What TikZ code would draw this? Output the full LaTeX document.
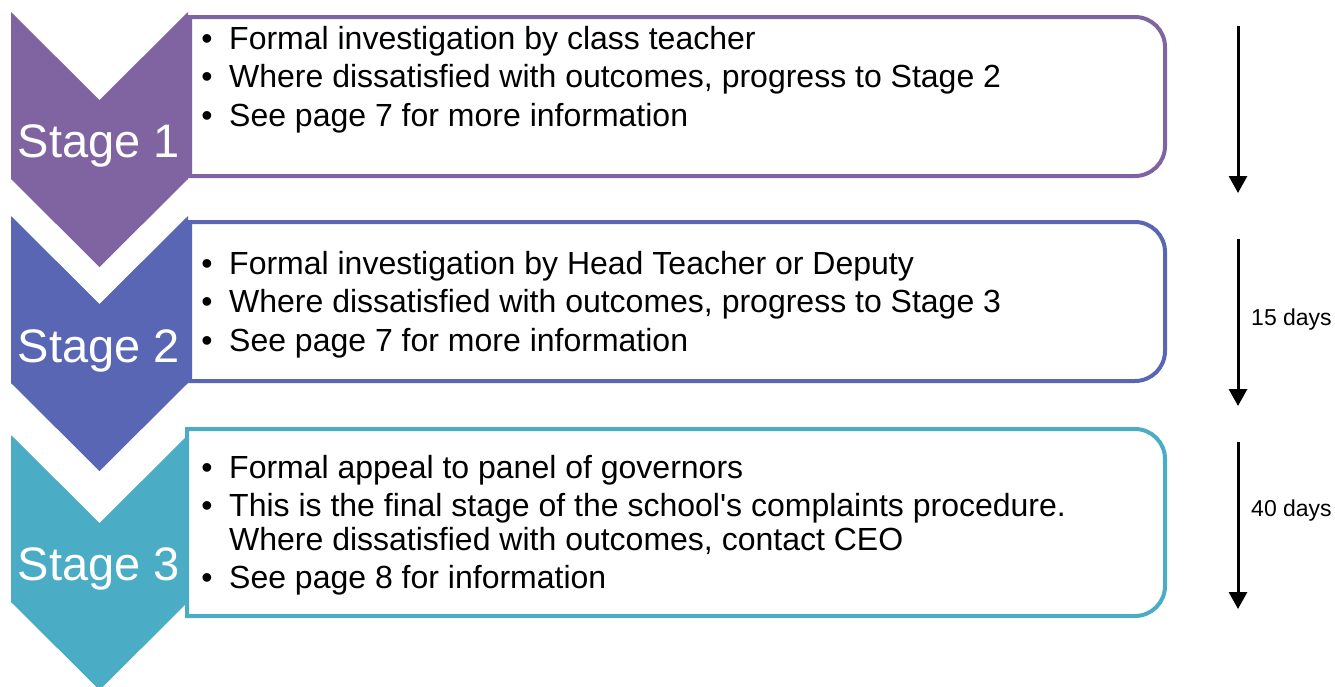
\documentclass[tikz,border=0pt]{standalone}
\usepackage{fontspec}
\setmainfont{Liberation Sans}
\usetikzlibrary{arrows.meta}
\definecolor{cpurple}{HTML}{8064A2}
\definecolor{cblue}{HTML}{5866B3}
\definecolor{cteal}{HTML}{4BACC6}
\tikzset{
  boxline/.style={draw=#1, line width=4pt, fill=white},
  chev/.style={fill=#1, draw=none},
  stagetxt/.style={text=white, font=\fontsize{47}{50}\selectfont, anchor=base, inner sep=0pt},
  bul/.style={font=\fontsize{32}{34}\selectfont, anchor=base, inner sep=0pt},
  itemtxt/.style={font=\fontsize{32}{34}\selectfont, anchor=base west, inner sep=0pt, align=left},
  daytxt/.style={font=\fontsize{23}{26}\selectfont, anchor=base west, inner sep=0pt},
  timearrow/.style={line width=3pt, -{Triangle[width=18pt,length=17pt]}}
}
\begin{document}
\begin{tikzpicture}[x=1pt,y=-1pt]
\useasboundingbox (0,0) rectangle (1335,686);

% boxes
\draw[boxline=cpurple] (190,17) [rounded corners=30pt] -- (1165,17) -- (1165,176) [sharp corners] -- (190,176) -- cycle;
\draw[boxline=cblue] (190,222) [rounded corners=30pt] -- (1165,222) -- (1165,381) [sharp corners] -- (190,381) -- cycle;
\draw[boxline=cteal] (187,429) [rounded corners=30pt] -- (1165,429) -- (1165,616) [sharp corners] -- (187,616) -- cycle;

% chevrons
\fill[chev=cpurple] (11,12) -- (99.5,100) -- (188,12) -- (188,179) -- (99.5,267) -- (11,179) -- cycle;
\fill[chev=cblue] (11,216) -- (99.5,304) -- (188,216) -- (188,383) -- (99.5,471) -- (11,383) -- cycle;
\fill[chev=cteal] (11,435) -- (99.5,523) -- (188,435) -- (188,602) -- (99.5,690) -- (11,602) -- cycle;

% stage labels
\node[stagetxt] (s1) at (99,157) {Stage 1};
\node[stagetxt] (s2) at (99,362) {Stage 2};
\node[stagetxt] (s3) at (99,580) {Stage 3};

% box 1 text
\node[bul] (b11) at (207,49) {•};
\node[itemtxt] (t11) at (229,49) {Formal investigation by class teacher};
\node[bul] (b12) at (207,87) {•};
\node[itemtxt] (t12) at (229,87) {Where dissatisfied with outcomes, progress to Stage 2};
\node[bul] (b13) at (207,126) {•};
\node[itemtxt] (t13) at (229,126) {See page 7 for more information};

% box 2 text
\node[bul] (b21) at (207,274) {•};
\node[itemtxt] (t21) at (229,274) {Formal investigation by Head Teacher or Deputy};
\node[bul] (b22) at (207,312) {•};
\node[itemtxt] (t22) at (229,312) {Where dissatisfied with outcomes, progress to Stage 3};
\node[bul] (b23) at (207,351) {•};
\node[itemtxt] (t23) at (229,351) {See page 7 for more information};

% box 3 text
\node[bul] (b31) at (207,478) {•};
\node[itemtxt] (t31) at (229,478) {Formal appeal to panel of governors};
\node[bul] (b32) at (207,516) {•};
\node[itemtxt] (t32) at (229,516) {This is the final stage of the school\textquotesingle s complaints procedure.};
\node[itemtxt] (t32b) at (229,550) {Where dissatisfied with outcomes, contact CEO};
\node[bul] (b33) at (207,588) {•};
\node[itemtxt] (t33) at (229,588) {See page 8 for information};

% time arrows
\coordinate (a1s) at (1238,26);
\coordinate (a1e) at (1238,193);
\coordinate (a2s) at (1238,239);
\coordinate (a2e) at (1238,406);
\coordinate (a3s) at (1238,442);
\coordinate (a3e) at (1238,609);
\draw[timearrow] (a1s) -- (a1e);
\draw[timearrow] (a2s) -- (a2e);
\draw[timearrow] (a3s) -- (a3e);

\node[daytxt] (d15) at (1251,325) {15 days};
\node[daytxt] (d40) at (1251,516) {40 days};
\end{tikzpicture}
\end{document}
